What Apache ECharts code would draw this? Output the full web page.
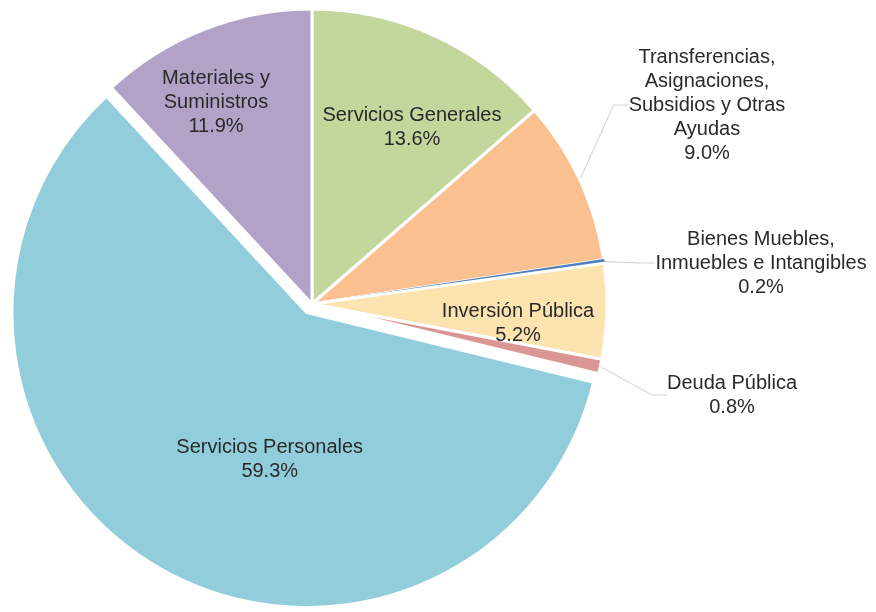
<!DOCTYPE html>
<html>
<head>
<meta charset="utf-8">
<script src="https://cdn.jsdelivr.net/npm/echarts@6/dist/echarts.min.js"></script>
<style>
html,body{margin:0;padding:0;background:#fff;}
#chart{width:876px;height:612px;}
</style>
</head>
<body>
<div id="chart"></div>
<script>
// Data (clockwise from 12 o'clock)
const categories = [
  "Servicios Generales",
  "Transferencias,\nAsignaciones,\nSubsidios y Otras\nAyudas",
  "Bienes Muebles,\nInmuebles e Intangibles",
  "Inversión Pública",
  "Deuda Pública",
  "Servicios Personales",
  "Materiales y\nSuministros"
];
const values = [13.6, 9.0, 0.2, 5.2, 0.8, 59.3, 11.9];
const colors = ["#c3d69b", "#fac090", "#4f81bd", "#fde3b0", "#d99694", "#92cddc", "#b3a2c7"];
const outsideLabels = [false, true, true, false, true, false, false];
// label centre positions (layout only)
const labelPos = [[412,127],[707,105],[761,263],[518,323],[732,395],null,[216,102]];
const explodedLabelOffset = [39, 17];

const chart = echarts.init(document.getElementById('chart'));
const data = categories.map((name, i) => {
  const item = {
    name: name,
    value: values[i],
    itemStyle: { color: colors[i] },
    label: { position: outsideLabels[i] ? 'outside' : 'inside' },
    labelLine: { show: outsideLabels[i] }
  };
  if (i === 2) {
    item.itemStyle.borderColor = colors[i];
    item.itemStyle.borderWidth = 1.5;
  }
  if (i === 5) {
    item.selected = true;
    item.label.offset = explodedLabelOffset;
    item.select = {
      itemStyle: { color: colors[i], borderColor: '#fff', borderWidth: 3 },
      label: { offset: explodedLabelOffset }
    };
  }
  return item;
});

chart.setOption({
  animation: false,
  backgroundColor: '#ffffff',
  series: [{
    type: 'pie',
    center: [312, 304],
    radius: 295,
    startAngle: 90,
    clockwise: true,
    selectedMode: 'single',
    selectedOffset: 10,
    avoidLabelOverlap: false,
    emphasis: { disabled: true },
    itemStyle: { borderColor: '#ffffff', borderWidth: 3 },
    label: {
      show: true,
      color: '#2a2a2a',
      fontFamily: '"Liberation Sans", Arial, sans-serif',
      fontSize: 20,
      lineHeight: 24,
      align: 'center',
      formatter: p => p.name + '\n' + p.value.toFixed(1) + '%'
    },
    labelLine: {
      show: true,
      length: 15,
      length2: 15,
      lineStyle: { color: '#cfcfcf', width: 1 }
    },
    labelLayout: function (params) {
      const pos = labelPos[params.dataIndex];
      if (!pos) return {};
      return { x: pos[0], y: pos[1], align: 'center', verticalAlign: 'middle' };
    },
    data: data
  }]
});
</script>
</body>
</html>
